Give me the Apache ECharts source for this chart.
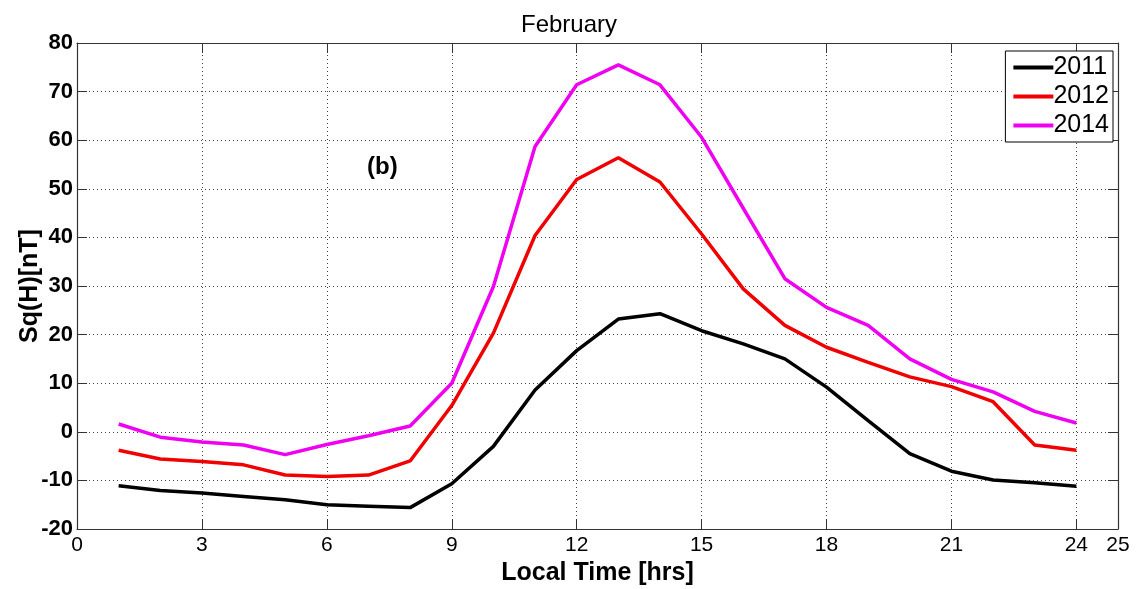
<!DOCTYPE html>
<html>
<head>
<meta charset="utf-8">
<script src="https://cdn.jsdelivr.net/npm/echarts@6/dist/echarts.min.js"></script>
<style>
html,body{margin:0;padding:0;background:#fff;}
#chart{width:1138px;height:589px;}
</style>
</head>
<body>
<div id="chart"></div>
<script>
const hours = [1,2,3,4,5,6,7,8,9,10,11,12,13,14,15,16,17,18,19,20,21,22,23,24];
const s2011 = [-11.1,-12.1,-12.6,-13.3,-14.0,-15.0,-15.3,-15.6,-10.7,-3.0,8.6,16.7,23.2,24.3,20.8,18.1,15.0,9.2,2.3,-4.5,-8.1,-9.9,-10.5,-11.2];
const s2012 = [-3.8,-5.6,-6.1,-6.8,-8.9,-9.2,-8.9,-6.0,5.4,20.3,40.4,51.9,56.4,51.4,40.7,29.4,21.9,17.4,14.3,11.3,9.3,6.2,-2.7,-3.8];
const s2014 = [1.6,-1.1,-2.1,-2.7,-4.7,-2.6,-0.8,1.2,10.0,29.9,58.7,71.4,75.5,71.4,60.6,46.0,31.5,25.6,21.9,15.0,10.8,8.2,4.2,1.8];
const seriesNames = ['2011','2012','2014'];
const seriesColors = ['#000000','#f00000','#f000f0'];
const seriesData = [s2011, s2012, s2014];

const chart = echarts.init(document.getElementById('chart'), null, {renderer:'canvas'});
const FONT = 'Liberation Sans, Arial, Helvetica, sans-serif';
const gridLine = {show:true, lineStyle:{color:'#444', width:1, type:[1,3]}};
const axisLine = {show:true, onZero:false, lineStyle:{color:'#333', width:1.2}};
const tick = {show:true, inside:true, length:10, lineStyle:{color:'#333'}};

const option = {
  backgroundColor:'#fff',
  animation:false,
  title:[
    {text:'February', left:'center', top:8, textStyle:{fontFamily:FONT, fontSize:24, fontWeight:'normal', color:'#000'}},
    {text:'(b)', left:362, top:150, textStyle:{fontFamily:FONT, fontSize:24, fontWeight:'bold', color:'#000'}}
  ],
  grid:{left:77, right:20, top:43, bottom:60, containLabel:false, outerBoundsMode:'none'},
  legend:{
    orient:'vertical', right:25, top:51,
    data:seriesNames,
    icon:'rect', itemWidth:40, itemHeight:4, itemGap:4,
    backgroundColor:'#fff', borderColor:'#000', borderWidth:1,
    padding:[4,4,4,8],
    textStyle:{fontFamily:FONT, fontSize:25, color:'#000', lineHeight:24, padding:[0,0,0,-5]}
  },
  xAxis:[
    {type:'value', min:0, max:25, interval:3, position:'bottom',
     name:'Local Time [hrs]', nameLocation:'middle', nameGap:30,
     nameTextStyle:{fontFamily:FONT, fontSize:25, fontWeight:'bold', color:'#000'},
     axisLine:axisLine, axisTick:tick,
     axisLabel:{fontFamily:FONT, fontSize:21, color:'#000', margin:6},
     splitLine:gridLine},
    {type:'value', min:0, max:25, interval:3, position:'top',
     axisLine:axisLine, axisTick:tick,
     axisLabel:{show:false}, splitLine:{show:false}}
  ],
  yAxis:[
    {type:'value', min:-20, max:80, interval:10, position:'left',
     name:'Sq(H)[nT]', nameLocation:'middle', nameGap:34, nameRotate:90, nameMoveOverlap:false,
     nameTextStyle:{fontFamily:FONT, fontSize:25, fontWeight:'bold', color:'#000'},
     axisLine:axisLine, axisTick:tick,
     axisLabel:{fontFamily:FONT, fontSize:22, fontWeight:'bold', color:'#000', margin:4},
     splitLine:gridLine},
    {type:'value', min:-20, max:80, interval:10, position:'right',
     axisLine:axisLine, axisTick:tick,
     axisLabel:{show:false}, splitLine:{show:false}}
  ],
  series: seriesNames.map((name, i) => ({
    name:name, type:'line',
    data: hours.map((h, k) => [h, seriesData[i][k]]),
    showSymbol:false, symbol:'none',
    lineStyle:{color:seriesColors[i], width:3.5},
    itemStyle:{color:seriesColors[i]},
    z: 3 + i
  }))
};
chart.setOption(option);
</script>
</body>
</html>
